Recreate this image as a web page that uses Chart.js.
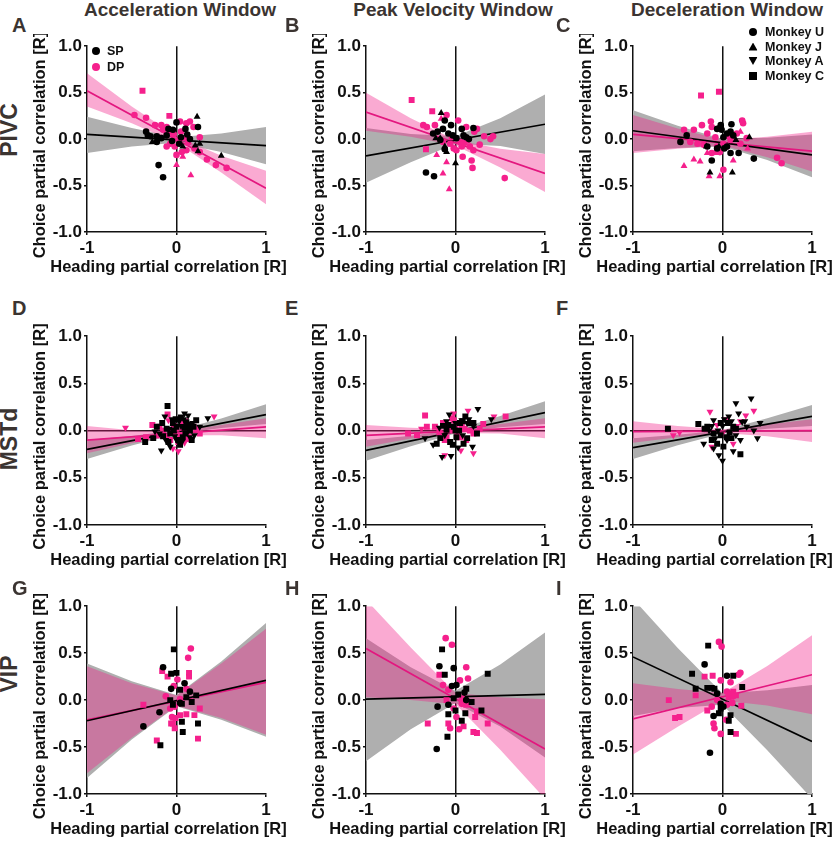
<!DOCTYPE html>
<html>
<head>
<meta charset="utf-8">
<script src="https://cdn.jsdelivr.net/npm/chart.js@4.4.0/dist/chart.umd.min.js"></script>
<style>
  body { margin: 0; background: #fff; width: 837px; height: 841px; overflow: hidden; position: relative;
         font-family: 'Liberation Sans', Arial, Helvetica, sans-serif; }
  .panel { position: absolute; }
  .lbl { position: absolute; font-weight: bold; color: #3b3431; white-space: nowrap; line-height: 1; }
  .leg { position: absolute; font-weight: bold; font-size: 12.5px; color: #111; white-space: nowrap; line-height: 1; transform: translateY(-50%); }
  .mk { position: absolute; transform: translate(-50%, -50%); }
</style>
</head>
<body>
<script>
// ---- axes / labels ----
const xTicks = [-1, 0, 1];
const yTicks = [-1, -0.5, 0, 0.5, 1];
const xTitle = 'Heading partial correlation [R]';
const yTitle = 'Choice partial correlation [R]';
const columnTitles = ['Acceleration Window', 'Peak Velocity Window', 'Deceleration Window'];
const rowLabels = ['PIVC', 'MSTd', 'VIP'];
const panelLetters = ['A', 'B', 'C', 'D', 'E', 'F', 'G', 'H', 'I'];
const groupNames = ['SP', 'DP'];
const monkeyNames = ['Monkey U', 'Monkey J', 'Monkey A', 'Monkey C'];

// x positions where fit lines and confidence bands were read
const fitX = [-1, 1];
const bandX = [-1, -0.5, 0, 0.5, 1];

// ---- A: PIVC, acceleration ----
const A_SP_U = [[-0.20,-0.28],[-0.15,-0.41],[0.24,0.13],[0.10,0.11],[0.00,0.18],[-0.04,0.10],[-0.34,0.08],[-0.29,0.03],[-0.22,0.03],[-0.17,0.01],[-0.11,0.04],[-0.22,-0.03],[-0.32,0.04],[-0.09,0.11],[0.05,0.02],[0.12,0.05],[-0.05,-0.02],[0.03,-0.05],[0.15,0.00]];
const A_SP_J = [[0.23,0.24],[0.50,-0.18],[0.21,-0.07],[0.24,-0.13],[0.07,-0.08],[0.26,-0.05],[-0.27,-0.03]];
const A_DP_U = [[-0.47,0.26],[-0.34,0.23],[-0.24,0.15],[-0.17,0.15],[-0.15,0.10],[-0.11,0.13],[-0.07,0.08],[0.04,0.19],[0.11,0.17],[0.15,0.19],[0.19,0.13],[0.26,0.02],[-0.02,-0.08],[0.00,-0.17],[0.06,-0.14],[0.11,-0.12],[0.20,-0.10],[0.26,-0.14],[0.34,-0.22],[0.44,-0.28],[0.56,-0.31],[-0.07,-0.05],[0.02,-0.01],[0.09,0.01],[-0.11,-0.08],[0.05,0.08],[-0.03,0.05],[0.13,-0.04]];
const A_DP_J = [[0.00,-0.28],[0.16,-0.39],[0.07,-0.19]];
const A_DP_C = [[-0.38,0.52],[-0.08,0.25]];
const A_SP_FIT = [0.05, -0.07];
const A_DP_FIT = [0.52, -0.53];
const A_SP_LO = [-0.15, -0.08, -0.04, -0.14, -0.27];
const A_SP_HI = [0.24, 0.12, 0.02, 0.06, 0.13];
const A_DP_LO = [0.35, 0.17, -0.04, -0.36, -0.70];
const A_DP_HI = [0.71, 0.35, 0.03, -0.18, -0.34];

// ---- B: PIVC, peak velocity ----
const B_SP_U = [[-0.33,-0.36],[-0.24,-0.40],[-0.14,0.11],[-0.12,0.20],[-0.05,0.15],[0.07,0.11],[0.20,0.12],[-0.25,0.06],[-0.08,0.06],[0.01,0.01],[0.09,0.04],[0.12,0.02],[-0.17,-0.01],[-0.12,-0.11],[-0.03,0.04],[0.15,0.00],[-0.20,0.08]];
const B_SP_J = [[-0.16,0.28],[-0.12,-0.08],[0.00,-0.26],[-0.17,0.01],[-0.22,0.01],[-0.10,-0.14]];
const B_DP_U = [[-0.36,0.15],[-0.32,0.13],[-0.23,0.15],[-0.10,0.26],[0.03,0.20],[0.12,0.13],[0.24,0.11],[0.21,0.08],[0.32,0.03],[0.39,0.00],[0.42,0.03],[0.27,-0.06],[0.20,-0.12],[0.18,-0.23],[0.19,-0.31],[0.08,-0.19],[0.01,-0.12],[-0.06,-0.05],[0.55,-0.42],[0.14,-0.01],[0.07,-0.08],[-0.02,-0.10],[-0.14,-0.03],[0.05,-0.03],[-0.04,0.02],[0.10,-0.04],[0.16,-0.08]];
const B_DP_J = [[-0.16,0.22],[-0.21,-0.17],[-0.14,-0.37],[-0.07,-0.54],[-0.10,-0.25]];
const B_DP_C = [[-0.49,0.42],[-0.26,0.30],[-0.33,-0.11]];
const B_SP_FIT = [-0.18, 0.16];
const B_DP_FIT = [0.29, -0.37];
const B_SP_LO = [-0.47, -0.25, -0.05, -0.075, -0.16];
const B_SP_HI = [0.12, 0.055, 0.03, 0.225, 0.48];
const B_DP_LO = [0.09, 0.025, -0.07, -0.305, -0.57];
const B_DP_HI = [0.50, 0.225, -0.01, -0.105, -0.16];

// ---- C: PIVC, deceleration ----
const C_SP_U = [[-0.02,0.15],[-0.01,0.10],[-0.06,0.11],[0.10,0.16],[0.05,0.06],[0.12,0.04],[-0.12,-0.23],[0.35,-0.21],[-0.17,-0.08],[-0.06,-0.10],[0.05,-0.08],[0.09,-0.15],[0.18,-0.15],[-0.47,-0.03],[-0.40,0.04],[0.01,0.02],[0.09,0.08],[-0.02,0.13],[0.02,-0.10]];
const C_SP_J = [[-0.14,-0.36],[0.11,-0.36],[0.30,0.02],[-0.18,-0.08],[0.15,-0.01],[-0.04,-0.08]];
const C_DP_U = [[-0.43,0.10],[-0.32,0.10],[-0.23,0.15],[-0.13,0.19],[-0.12,0.13],[-0.17,0.06],[0.22,0.20],[0.23,0.17],[0.16,0.06],[0.09,-0.01],[0.01,-0.05],[0.05,-0.08],[-0.06,-0.08],[-0.12,-0.15],[-0.03,-0.14],[-0.21,-0.06],[-0.28,-0.05],[-0.36,-0.03],[0.01,-0.33],[0.61,-0.20],[0.66,-0.26],[0.20,-0.05],[0.27,0.01],[-0.08,0.02],[0.07,0.03]];
const C_DP_J = [[-0.43,-0.29],[-0.32,-0.22],[-0.25,-0.24],[-0.15,-0.40],[-0.03,-0.40],[-0.17,-0.15],[-0.08,-0.15],[0.12,-0.23],[0.20,0.08],[0.28,-0.10]];
const C_DP_C = [[-0.24,0.47],[-0.04,0.51]];
const C_SP_FIT = [0.09, -0.17];
const C_DP_FIT = [0.05, -0.13];
const C_SP_LO = [-0.13, -0.095, -0.08, -0.225, -0.41];
const C_SP_HI = [0.31, 0.145, 0.00, 0.015, 0.05];
const C_DP_LO = [-0.15, -0.105, -0.07, -0.195, -0.35];
const C_DP_HI = [0.26, 0.115, -0.01, 0.025, 0.08];

// ---- D: MSTd, acceleration ----
const D_SP_A = [[-0.13,0.15],[0.09,0.18],[0.13,0.16],[0.35,0.13],[-0.17,-0.21],[-0.07,-0.17],[0.06,-0.12],[0.15,-0.07],[0.26,0.04],[-0.19,-0.03],[-0.24,-0.01],[0.03,0.10],[-0.02,-0.06],[0.05,0.05],[0.12,-0.02],[-0.08,0.02],[0.18,0.08],[-0.12,-0.10],[0.00,-0.10],[0.08,0.12],[0.20,-0.05],[-0.05,0.12]];
const D_SP_C = [[-0.10,0.26],[-0.22,0.04],[-0.35,-0.12],[-0.26,-0.08],[-0.15,-0.06],[-0.04,0.08],[0.11,0.09],[0.22,0.11],[0.19,0.04],[0.07,-0.07],[0.04,-0.15],[-0.11,0.02],[-0.07,-0.03],[0.00,0.04],[0.15,0.00],[0.10,-0.03],[-0.03,0.00],[-0.16,0.08],[0.02,-0.10],[0.13,0.06],[-0.09,-0.12],[0.05,0.14],[0.17,-0.10],[-0.01,0.12],[0.09,0.03]];
const D_DP_A = [[-0.57,0.03],[0.42,0.15],[-0.04,-0.19],[0.02,-0.22],[0.09,-0.13],[-0.09,0.11]];
const D_DP_C = [[-0.43,-0.09],[-0.34,-0.07],[-0.27,0.06],[-0.19,0.04],[-0.10,0.17],[-0.04,-0.01],[0.04,-0.05],[0.11,-0.01],[0.19,0.04],[0.26,-0.03],[0.22,0.02],[0.06,0.08],[-0.07,-0.10],[-0.11,-0.06],[-0.22,-0.05],[0.14,-0.07],[0.00,0.02],[0.07,0.03],[0.02,-0.12],[0.10,0.10],[-0.03,0.05],[0.16,0.06],[0.12,-0.09],[-0.15,0.00]];
const D_SP_FIT = [-0.20, 0.17];
const D_DP_FIT = [-0.10, 0.04];
const D_SP_LO = [-0.30, -0.158, -0.035, 0.028, 0.07];
const D_SP_HI = [-0.10, -0.058, 0.005, 0.128, 0.28];
const D_DP_LO = [-0.24, -0.135, -0.05, -0.05, -0.08];
const D_DP_HI = [0.05, 0.005, -0.01, 0.06, 0.13];

// ---- E: MSTd, peak velocity ----
const E_SP_A = [[-0.07,0.17],[0.25,0.23],[0.40,0.12],[-0.15,-0.28],[-0.05,-0.27],[0.19,-0.17],[-0.25,-0.15],[-0.34,-0.08],[0.07,0.11],[0.13,0.08],[-0.10,0.10],[0.20,0.05],[0.00,0.08],[0.08,-0.05],[-0.12,-0.05],[0.15,0.12],[0.03,-0.18],[-0.18,0.03]];
const E_SP_C = [[-0.17,-0.08],[-0.10,0.01],[-0.02,0.04],[0.05,0.08],[0.11,0.15],[0.16,0.08],[0.24,-0.03],[-0.06,-0.12],[-0.21,-0.14],[0.01,-0.07],[0.09,-0.14],[-0.14,0.05],[0.00,0.00],[0.04,0.00],[-0.08,0.06],[0.13,-0.08],[0.20,0.08],[-0.03,-0.15],[0.08,0.10]];
const E_DP_A = [[-0.38,0.02],[0.14,0.21],[0.43,0.15],[-0.12,-0.26],[0.06,-0.21],[0.20,-0.24],[-0.02,0.18]];
const E_DP_C = [[-0.34,0.16],[-0.53,-0.03],[-0.43,-0.05],[-0.32,0.04],[-0.23,0.04],[-0.14,0.08],[-0.02,0.11],[0.07,0.04],[0.16,0.00],[0.27,0.02],[0.31,0.07],[0.56,0.15],[-0.10,-0.07],[0.05,-0.07],[-0.12,-0.10],[-0.04,0.13],[0.10,0.02],[-0.06,0.00],[0.02,-0.02],[-0.08,0.02],[0.12,-0.10],[0.20,-0.03],[0.00,0.06],[-0.18,-0.02]];
const E_SP_FIT = [-0.21, 0.19];
const E_DP_FIT = [-0.05, 0.04];
const E_SP_LO = [-0.32, -0.165, -0.03, 0.035, 0.07];
const E_SP_HI = [-0.10, -0.055, 0.01, 0.155, 0.31];
const E_DP_LO = [-0.17, -0.085, -0.025, -0.03, -0.08];
const E_DP_HI = [0.06, 0.03, 0.015, 0.07, 0.13];

// ---- F: MSTd, deceleration ----
const F_SP_C = [[-0.61,0.02],[-0.27,0.07],[0.20,-0.25],[-0.17,0.04],[-0.10,-0.03],[0.05,-0.07],[0.12,0.04],[-0.06,-0.14],[0.01,-0.17],[-0.02,0.08],[0.08,-0.02],[-0.02,-0.05],[0.10,-0.08],[-0.12,-0.10],[0.06,0.08],[-0.20,0.02],[0.15,0.02]];
const F_SP_A = [[0.32,0.34],[0.15,0.29],[-0.21,-0.14],[0.00,-0.32],[-0.04,-0.26],[0.12,-0.22],[0.39,-0.08],[0.42,0.08],[-0.10,0.11],[0.07,0.15],[0.22,0.09],[0.27,0.04],[0.35,0.00],[-0.10,-0.19],[-0.15,0.00],[0.00,0.05],[0.15,-0.05],[-0.05,0.00],[0.05,-0.10],[0.10,0.10],[-0.12,0.05],[0.02,0.12],[0.20,-0.10],[-0.08,-0.08],[0.25,0.10],[0.18,0.18]];
const F_DP_A = [[-0.14,0.20],[0.35,0.21],[0.26,0.16],[0.16,0.05],[-0.12,-0.17],[-0.55,-0.05],[-0.48,-0.02],[0.12,-0.14],[-0.06,0.06],[0.05,0.12],[0.00,-0.03],[0.20,0.10],[-0.20,0.02]];
const F_SP_FIT = [-0.18, 0.15];
const F_DP_FIT = [-0.01, 0.00];
const F_SP_LO = [-0.30, -0.155, -0.03, 0.02, 0.05];
const F_SP_HI = [-0.08, -0.045, 0.00, 0.13, 0.27];
const F_DP_LO = [-0.13, -0.07, -0.025, -0.06, -0.12];
const F_DP_HI = [0.10, 0.05, 0.015, 0.065, 0.12];

// ---- G: VIP, acceleration ----
const G_SP_C = [[-0.03,0.54],[0.00,0.29],[-0.06,0.28],[0.04,0.11],[0.06,-0.23],[0.07,-0.34],[0.24,-0.25],[-0.18,-0.48],[0.22,0.05],[0.17,-0.02],[0.11,0.03],[-0.07,0.00],[-0.04,-0.05],[0.06,-0.04]];
const G_SP_U = [[-0.15,0.35],[-0.06,0.12],[0.09,0.18],[-0.37,-0.28],[-0.19,-0.13],[0.15,0.09],[0.04,-0.03]];
const G_DP_U = [[0.16,0.55],[0.13,0.45],[0.01,0.22],[-0.12,0.04],[0.11,0.12],[0.04,0.01],[-0.02,-0.07],[-0.07,-0.09],[-0.05,-0.18],[-0.03,0.15]];
const G_DP_C = [[-0.16,0.31],[-0.10,0.25],[0.14,0.29],[0.14,0.25],[-0.37,-0.05],[-0.22,-0.43],[0.24,-0.41],[0.26,-0.09],[0.20,-0.16],[0.11,-0.15],[0.04,-0.16],[-0.04,-0.25],[-0.02,-0.30],[-0.06,-0.25],[-0.01,-0.19]];
const G_SP_FIT = [-0.22, 0.21];
const G_DP_FIT = [-0.21, 0.19];
const G_SP_LO = [-0.83, -0.42, -0.065, -0.21, -0.39];
const G_SP_HI = [0.39, 0.20, 0.055, 0.41, 0.82];
const G_DP_LO = [-0.78, -0.40, -0.06, -0.19, -0.37];
const G_DP_HI = [0.36, 0.18, 0.05, 0.39, 0.76];

// ---- H: VIP, peak velocity ----
const H_SP_U = [[-0.18,0.36],[-0.02,0.34],[-0.20,-0.07],[-0.21,-0.52],[0.01,0.16],[-0.04,0.15],[0.10,0.08],[0.12,0.00],[-0.08,-0.05]];
const H_SP_C = [[-0.15,0.54],[-0.12,0.27],[0.12,0.12],[0.36,0.28],[-0.08,-0.15],[0.00,-0.11],[0.07,-0.22],[0.11,-0.14],[0.29,-0.11],[-0.09,-0.39],[0.18,-0.02],[-0.02,0.02],[0.03,0.06]];
const H_DP_U = [[-0.11,0.66],[-0.04,0.59],[0.12,0.35],[0.14,0.23],[-0.14,0.16],[-0.08,0.11],[-0.06,-0.30],[0.04,-0.31],[0.05,0.21],[0.07,-0.04],[0.01,-0.18],[-0.02,-0.09]];
const H_DP_C = [[-0.18,0.27],[-0.31,-0.25],[-0.08,-0.25],[0.09,-0.28],[0.20,-0.34],[0.24,-0.35],[0.36,-0.25],[0.22,-0.18],[0.24,-0.12],[0.12,-0.05],[0.07,0.02],[-0.10,0.00]];
const H_SP_FIT = [0.01, 0.06];
const H_DP_FIT = [0.55, -0.52];
const H_SP_LO = [-0.65, -0.31, -0.03, -0.28, -0.61];
const H_SP_HI = [0.66, 0.35, 0.10, 0.38, 0.72];
const H_DP_LO = [0.03, 0.00, -0.045, -0.53, -1.05];
const H_DP_HI = [1.07, 0.56, 0.075, 0.03, 0.01];

// ---- I: VIP, deceleration ----
const I_SP_C = [[-0.16,0.58],[-0.34,0.28],[-0.30,0.12],[-0.17,0.13],[-0.12,0.13],[-0.09,0.12],[0.12,0.26],[0.22,0.14],[-0.04,-0.14],[0.09,-0.34],[0.07,-0.22],[0.09,-0.16],[-0.02,-0.09]];
const I_SP_U = [[-0.20,0.38],[0.05,0.26],[-0.14,-0.56],[-0.10,-0.17],[0.01,-0.07],[-0.02,-0.04],[-0.06,0.07]];
const I_DP_U = [[-0.04,0.62],[-0.01,0.57],[-0.02,0.21],[0.09,0.19],[0.20,0.29],[0.18,0.27],[0.05,0.09],[0.09,0.07],[0.12,0.04],[-0.06,0.00],[-0.12,-0.07],[-0.10,-0.25],[-0.09,-0.30],[-0.02,-0.36],[0.04,-0.21],[0.05,-0.05],[0.11,-0.03]];
const I_DP_C = [[-0.20,0.25],[-0.11,0.26],[-0.60,0.00],[-0.53,-0.19],[-0.48,-0.18],[-0.30,0.05],[-0.17,-0.11],[0.15,-0.36],[0.21,-0.06],[0.12,0.09],[0.15,0.05],[0.07,0.03]];
const I_SP_FIT = [0.46, -0.44];
const I_DP_FIT = [-0.20, 0.27];
const I_SP_LO = [-0.17, -0.085, -0.05, -0.535, -1.05];
const I_SP_HI = [1.08, 0.555, 0.07, 0.105, 0.16];
const I_DP_LO = [-0.58, -0.283, -0.005, -0.057, -0.15];
const I_DP_HI = [0.18, 0.117, 0.075, 0.363, 0.69];

// ---- style ----
const FONT = "'Liberation Sans', Arial, Helvetica, sans-serif";
const BLACK = '#000000';
const PINK = '#f5208c';
const PINK_LINE = '#e3177f';
const PINK_BAND = 'rgba(242, 28, 135, 0.375)';   // translucent, laid over the gray band
const GRAY_BAND = '#afafaf';
const markers = {
  U: { pointStyle: 'circle', pointRadius: 3.3, pointRotation: 0 },
  J: { pointStyle: 'triangle', pointRadius: 4, pointRotation: 0 },
  A: { pointStyle: 'triangle', pointRadius: 4, pointRotation: 180 },
  C: { pointStyle: 'rect', pointRadius: 4.2, pointRotation: 0 }
};

// plot-area placement (pixels) per column / row
const colLeft = [87, 366, 633];
const plotWidth = 179;
const rowTop = [46, 336, 606];
const rowHeight = [186, 189, 188];
const Y_AXIS_W = 60, X_AXIS_H = 48, PAD_TOP = 12, PAD_RIGHT = 24;

const panels = [
  { sp: { U: A_SP_U, J: A_SP_J }, dp: { U: A_DP_U, J: A_DP_J, C: A_DP_C }, spFit: A_SP_FIT, dpFit: A_DP_FIT, spLo: A_SP_LO, spHi: A_SP_HI, dpLo: A_DP_LO, dpHi: A_DP_HI },
  { sp: { U: B_SP_U, J: B_SP_J }, dp: { U: B_DP_U, J: B_DP_J, C: B_DP_C }, spFit: B_SP_FIT, dpFit: B_DP_FIT, spLo: B_SP_LO, spHi: B_SP_HI, dpLo: B_DP_LO, dpHi: B_DP_HI },
  { sp: { U: C_SP_U, J: C_SP_J }, dp: { U: C_DP_U, J: C_DP_J, C: C_DP_C }, spFit: C_SP_FIT, dpFit: C_DP_FIT, spLo: C_SP_LO, spHi: C_SP_HI, dpLo: C_DP_LO, dpHi: C_DP_HI },
  { sp: { A: D_SP_A, C: D_SP_C }, dp: { A: D_DP_A, C: D_DP_C }, spFit: D_SP_FIT, dpFit: D_DP_FIT, spLo: D_SP_LO, spHi: D_SP_HI, dpLo: D_DP_LO, dpHi: D_DP_HI },
  { sp: { A: E_SP_A, C: E_SP_C }, dp: { A: E_DP_A, C: E_DP_C }, spFit: E_SP_FIT, dpFit: E_DP_FIT, spLo: E_SP_LO, spHi: E_SP_HI, dpLo: E_DP_LO, dpHi: E_DP_HI },
  { sp: { C: F_SP_C, A: F_SP_A }, dp: { A: F_DP_A }, spFit: F_SP_FIT, dpFit: F_DP_FIT, spLo: F_SP_LO, spHi: F_SP_HI, dpLo: F_DP_LO, dpHi: F_DP_HI },
  { sp: { C: G_SP_C, U: G_SP_U }, dp: { U: G_DP_U, C: G_DP_C }, spFit: G_SP_FIT, dpFit: G_DP_FIT, spLo: G_SP_LO, spHi: G_SP_HI, dpLo: G_DP_LO, dpHi: G_DP_HI },
  { sp: { U: H_SP_U, C: H_SP_C }, dp: { U: H_DP_U, C: H_DP_C }, spFit: H_SP_FIT, dpFit: H_DP_FIT, spLo: H_SP_LO, spHi: H_SP_HI, dpLo: H_DP_LO, dpHi: H_DP_HI },
  { sp: { C: I_SP_C, U: I_SP_U }, dp: { U: I_DP_U, C: I_DP_C }, spFit: I_SP_FIT, dpFit: I_DP_FIT, spLo: I_SP_LO, spHi: I_SP_HI, dpLo: I_DP_LO, dpHi: I_DP_HI }
];

// axis titles, drawn slightly off-centre like the original figure
const axisTitlePlugin = {
  id: 'axisTitles',
  afterDraw(chart, args, opts) {
    const { ctx, chartArea: a } = chart;
    ctx.save();
    ctx.font = 'bold 16.5px ' + FONT;
    ctx.fillStyle = '#111';
    ctx.textAlign = 'center';
    ctx.textBaseline = 'middle';
    ctx.fillText(opts.x, (a.left + a.right) / 2 - 8, a.bottom + 35);
    ctx.translate(a.left - 47, (a.top + a.bottom) / 2 + 6);
    ctx.rotate(-Math.PI / 2);
    ctx.fillText(opts.y, 0, 0);
    ctx.restore();
  }
};

// gray band gets the higher order so it is filled first, pink goes on top of it
function bandSets(lo, hi, color, order) {
  return [
    { type: 'line', data: bandX.map((x, i) => ({ x, y: lo[i] })), borderWidth: 0, pointRadius: 0, fill: false, order },
    { type: 'line', data: bandX.map((x, i) => ({ x, y: hi[i] })), borderWidth: 0, pointRadius: 0, fill: '-1', backgroundColor: color, order }
  ];
}

function fitSet(fit, color) {
  return { type: 'line', data: fitX.map((x, i) => ({ x, y: fit[i] })), borderColor: color, borderWidth: 1.7, pointRadius: 0, fill: false, order: 1 };
}

function pointSets(groups, color) {
  return Object.keys(groups).map(m => ({
    type: 'scatter',
    data: groups[m].map(([x, y]) => ({ x, y })),
    backgroundColor: color,
    borderWidth: 0,
    ...markers[m],
    order: 0
  }));
}

const zeroLine = c => (c.tick && c.tick.value === 0 ? '#111' : 'rgba(0,0,0,0)');
const tickFont = { family: FONT, size: 17, weight: 'bold' };

panels.forEach((p, k) => {
  const col = k % 3, row = Math.floor(k / 3);
  const w = Y_AXIS_W + plotWidth + PAD_RIGHT;
  const h = PAD_TOP + rowHeight[row] + X_AXIS_H;
  const div = document.createElement('div');
  div.className = 'panel';
  div.style.left = (colLeft[col] - Y_AXIS_W) + 'px';
  div.style.top = (rowTop[row] - PAD_TOP) + 'px';
  const canvas = document.createElement('canvas');
  canvas.width = w; canvas.height = h;
  canvas.style.width = w + 'px'; canvas.style.height = h + 'px';
  div.appendChild(canvas);
  document.body.appendChild(div);

  const datasets = [
    ...pointSets(p.sp, BLACK),
    ...pointSets(p.dp, PINK),
    fitSet(p.spFit, BLACK),
    fitSet(p.dpFit, PINK_LINE),
    ...bandSets(p.spLo, p.spHi, GRAY_BAND, 3),
    ...bandSets(p.dpLo, p.dpHi, PINK_BAND, 2)
  ];

  new Chart(canvas.getContext('2d'), {
    type: 'scatter',
    data: { datasets },
    options: {
      responsive: false,
      devicePixelRatio: 1,
      animation: false,
      layout: { padding: { top: PAD_TOP, right: PAD_RIGHT, left: 0, bottom: 0 } },
      plugins: {
        legend: { display: false },
        tooltip: { enabled: false },
        filler: { drawTime: 'beforeDatasetsDraw' },
        axisTitles: { x: xTitle, y: yTitle }
      },
      scales: {
        x: {
          type: 'linear', min: -1, max: 1,
          afterBuildTicks: s => { s.ticks = xTicks.map(v => ({ value: v })); },
          afterFit: s => { s.height = X_AXIS_H; },
          ticks: { color: '#111', font: tickFont, padding: 3, maxRotation: 0, callback: v => String(v) },
          grid: { color: zeroLine, lineWidth: 1.5, tickLength: 3, tickColor: '#111', tickWidth: 1.5 },
          border: { color: '#111', width: 1.5 }
        },
        y: {
          type: 'linear', min: -1, max: 1,
          afterBuildTicks: s => { s.ticks = yTicks.map(v => ({ value: v })); },
          afterFit: s => { s.width = Y_AXIS_W; },
          ticks: { color: '#111', font: tickFont, padding: 2, callback: v => Number(v).toFixed(1) },
          grid: { color: zeroLine, lineWidth: 1.5, tickLength: 3, tickColor: '#111', tickWidth: 1.5 },
          border: { color: '#111', width: 1.5 }
        }
      }
    },
    plugins: [axisTitlePlugin]
  });
});

// ---- text around the grid ----
function addText(text, x, y, size, transform) {
  const d = document.createElement('div');
  d.className = 'lbl';
  d.textContent = text;
  d.style.left = x + 'px';
  d.style.top = y + 'px';
  d.style.fontSize = size + 'px';
  d.style.transform = transform;
  document.body.appendChild(d);
}
const columnCenters = [180, 453, 727];
columnTitles.forEach((t, i) => addText(t, columnCenters[i], 9, 19, 'translate(-50%, -50%)'));
const rowCenters = [130, 439, 674];
rowLabels.forEach((t, i) => addText(t, 9, rowCenters[i], 23, 'translate(-50%, -50%) rotate(-90deg)'));
const letterX = [12, 285, 556];
const letterY = [25, 308, 588];
panelLetters.forEach((t, k) => addText(t, letterX[k % 3], letterY[Math.floor(k / 3)], 20, 'translateY(-50%)'));

// ---- legends ----
function addMarker(x, y, shape, color) {
  const m = document.createElement('div');
  m.className = 'mk';
  m.style.left = x + 'px';
  m.style.top = y + 'px';
  m.style.background = color;
  if (shape === 'U') { m.style.width = '8px'; m.style.height = '8px'; m.style.borderRadius = '50%'; }
  if (shape === 'J') { m.style.width = '9px'; m.style.height = '8px'; m.style.clipPath = 'polygon(50% 0, 100% 100%, 0 100%)'; }
  if (shape === 'A') { m.style.width = '9px'; m.style.height = '8px'; m.style.clipPath = 'polygon(0 0, 100% 0, 50% 100%)'; }
  if (shape === 'C') { m.style.width = '8px'; m.style.height = '8px'; }
  document.body.appendChild(m);
}
function addLegendText(text, x, y) {
  const d = document.createElement('div');
  d.className = 'leg';
  d.textContent = text;
  d.style.left = x + 'px';
  d.style.top = y + 'px';
  document.body.appendChild(d);
}
[BLACK, PINK].forEach((c, i) => {
  addMarker(96, 51 + i * 16, 'U', c);
  addLegendText(groupNames[i], 107, 51 + i * 16);
});
['U', 'J', 'A', 'C'].forEach((s, i) => {
  addMarker(753, 32 + i * 14.5, s, BLACK);
  addLegendText(monkeyNames[i], 765, 32 + i * 14.5);
});
</script>
</body>
</html>
